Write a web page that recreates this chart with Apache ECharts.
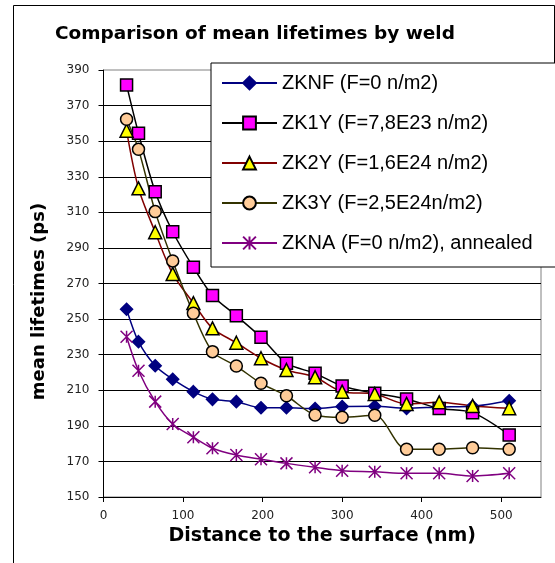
<!DOCTYPE html>
<html>
<head>
<meta charset="utf-8">
<script src="https://cdn.jsdelivr.net/npm/echarts@6/dist/echarts.min.js"></script>
<style>
  html, body { margin: 0; padding: 0; background: #fff; }
  #chart { width: 555px; height: 563px; }
</style>
</head>
<body>
<div id="chart"></div>
<script>
// distance to the surface (nm), same for every weld
const distance = [29, 44, 65, 87, 113, 137, 167, 198, 230, 266, 300, 341, 381, 422, 464, 510]
// mean lifetimes (ps)
const zknf = [255.5, 237.3, 223.8, 216.2, 209.2, 204.9, 203.6, 200.2, 200.2, 199.7, 200.8, 201, 199.8, 200.6, 201, 204.1]
const zk1y = [381.6, 354.4, 321.6, 299.1, 279.1, 263.3, 251.9, 239.8, 225.2, 219.5, 212.4, 208.3, 205.1, 199.8, 197.4, 184.9]
const zk2y = [355.9, 323.5, 298.8, 275.4, 259, 244.8, 236.7, 228, 221.4, 217.3, 209.2, 207.9, 202.3, 203.2, 201.2, 199.9]
const zk3y = [362.3, 345.4, 310.4, 282.7, 253.3, 231.7, 223.6, 213.9, 206.9, 196.1, 194.8, 195.9, 176.8, 176.8, 177.7, 176.8]
const zkna = [240.1, 221, 203.6, 191, 183.6, 177.4, 173.6, 171.2, 168.9, 166.7, 164.8, 164.2, 163.3, 163.3, 161.8, 163.3]

const names = [
  'ZKNF (F=0 n/m2)',
  'ZK1Y (F=7,8E23 n/m2)',
  'ZK2Y (F=1,6E24 n/m2)',
  'ZK3Y (F=2,5E24n/m2)',
  'ZKNA (F=0 n/m2), annealed'
]

const pairs = (ys) => distance.map((x, i) => [x, ys[i]])

// excel-like asterisk marker
const star = 'path://M0,0L10,10M0,10L10,0M5,0L5,10'

const mkSeries = (name, ys, lineColor, symbol, size, fill, border) => ({
  name: name,
  type: 'line',
  data: pairs(ys),
  smooth: 0.3,
  symbol: symbol,
  symbolSize: size,
  showAllSymbol: true,
  lineStyle: {color: lineColor, width: 1.5},
  itemStyle: {color: fill, borderColor: border, borderWidth: 1.5},
  emphasis: {disabled: true}
})

const chart = echarts.init(document.getElementById('chart'))
const option = {
  animation: false,
  backgroundColor: '#fff',
  title: {
    text: 'Comparison of mean lifetimes by weld',
    left: 55,
    top: 25,
    padding: 0,
    textStyle: {fontFamily: 'DejaVu Sans', fontWeight: 'bold', fontSize: 18.5, color: '#000'}
  },
  legend: {
    data: names,
    orient: 'vertical',
    left: 211,
    top: 63,
    padding: [10, 40, 14, 10],
    itemWidth: 55,
    itemHeight: 16,
    itemGap: 20,
    backgroundColor: '#fff',
    borderColor: '#000',
    borderWidth: 1,
    borderRadius: 0,
    selectedMode: false,
    textStyle: {fontFamily: 'Liberation Sans', fontSize: 20, lineHeight: 20, color: '#000'}
  },
  grid: {
    left: 103.5,
    right: 14,
    top: 70,
    bottom: 66,
    containLabel: false,
    show: true,
    borderColor: '#808080',
    borderWidth: 1
  },
  xAxis: {
    type: 'value',
    min: 0,
    max: 550,
    interval: 100,
    name: 'Distance to the surface (nm)',
    nameLocation: 'middle',
    nameGap: 21,
    nameTextStyle: {fontFamily: 'DejaVu Sans', fontWeight: 'bold', fontSize: 19, color: '#000'},
    axisLine: {lineStyle: {color: '#000', width: 1}},
    axisTick: {show: true, inside: false, length: 5, lineStyle: {color: '#000'}},
    axisLabel: {
      showMaxLabel: false,
      margin: 13,
      fontFamily: 'DejaVu Sans',
      fontSize: 12,
      color: '#222'
    },
    splitLine: {show: false}
  },
  yAxis: {
    type: 'value',
    min: 150,
    max: 390,
    interval: 20,
    name: 'mean lifetimes (ps)',
    nameLocation: 'middle',
    nameGap: 55,
    nameTextStyle: {fontFamily: 'DejaVu Sans', fontWeight: 'bold', fontSize: 18, color: '#000', padding: [0, 36, 0, 0]},
    axisLine: {show: true, lineStyle: {color: '#000', width: 1}},
    axisTick: {show: true, inside: false, length: 5, lineStyle: {color: '#000'}},
    axisLabel: {margin: 14, fontFamily: 'DejaVu Sans', fontSize: 12, color: '#222'},
    splitLine: {show: true, showMaxLine: false, lineStyle: {color: '#000', width: 1}}
  },
  graphic: [{
    type: 'polyline',
    silent: true,
    shape: {points: [[554.5, 63], [554.5, 5.5], [13.5, 5.5], [13.5, 570]]},
    style: {stroke: '#000', lineWidth: 1, fill: null}
  }],
  series: [
    mkSeries(names[0], zknf, '#000080', 'diamond', 12, '#000080', '#000080'),
    mkSeries(names[1], zk1y, '#000000', 'rect', 12, '#ff00ff', '#000000'),
    mkSeries(names[2], zk2y, '#800000', 'triangle', 13, '#ffff00', '#000000'),
    mkSeries(names[3], zk3y, '#333300', 'circle', 12, '#ffcc99', '#000000'),
    mkSeries(names[4], zkna, '#800080', star, 12, '#800080', '#800080')
  ]
}
chart.setOption(option)
</script>
</body>
</html>
